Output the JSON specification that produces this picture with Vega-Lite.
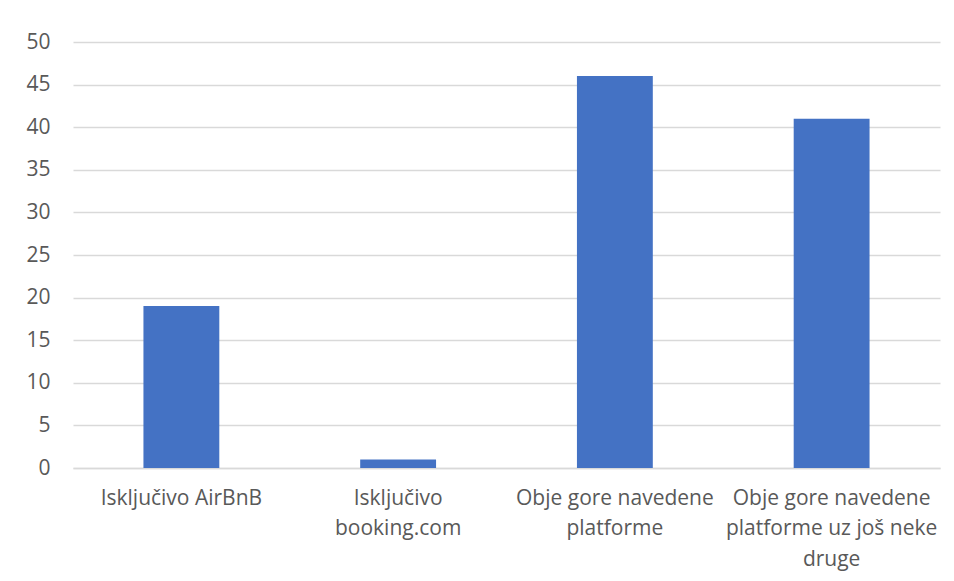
{
  "$schema": "https://vega.github.io/schema/vega-lite/v6.json",
  "autosize": "none",
  "width": 867,
  "height": 426,
  "padding": {"left": 73, "top": 42, "right": 14, "bottom": 113},
  "background": "white",
  "data": {
    "values": [
      {"kategorija": "Isključivo AirBnB", "broj": 19},
      {"kategorija": "Isključivo booking.com", "broj": 1},
      {"kategorija": "Obje gore navedene platforme", "broj": 46},
      {"kategorija": "Obje gore navedene platforme uz još neke druge", "broj": 41}
    ]
  },
  "config": {
    "view": {"stroke": null},
    "font": "Open Sans"
  },
  "mark": {"type": "bar", "color": "#4472C4"},
  "encoding": {
    "x": {
      "field": "kategorija",
      "type": "nominal",
      "sort": null,
      "scale": {"paddingInner": 0.65, "paddingOuter": 0.325},
      "axis": {
        "title": null,
        "labelAngle": 0,
        "ticks": false,
        "domainColor": "#d9d9d9",
        "domainWidth": 1.3,
        "labelColor": "#595959",
        "labelFontSize": 21,
        "labelPadding": 19,
        "labelLineHeight": 30.5,
        "labelLimit": 300,
        "labelExpr": "datum.value == 'Isključivo booking.com' ? ['Isključivo','booking.com'] : datum.value == 'Obje gore navedene platforme' ? ['Obje gore navedene','platforme'] : datum.value == 'Obje gore navedene platforme uz još neke druge' ? ['Obje gore navedene','platforme uz još neke','druge'] : datum.value"
      }
    },
    "y": {
      "field": "broj",
      "type": "quantitative",
      "scale": {"domain": [0, 50], "nice": false},
      "axis": {
        "title": null,
        "values": [0, 5, 10, 15, 20, 25, 30, 35, 40, 45, 50],
        "domain": false,
        "ticks": false,
        "gridColor": "#d9d9d9",
        "gridWidth": 1.3,
        "labelColor": "#595959",
        "labelFontSize": 21,
        "labelPadding": 23
      }
    }
  }
}
